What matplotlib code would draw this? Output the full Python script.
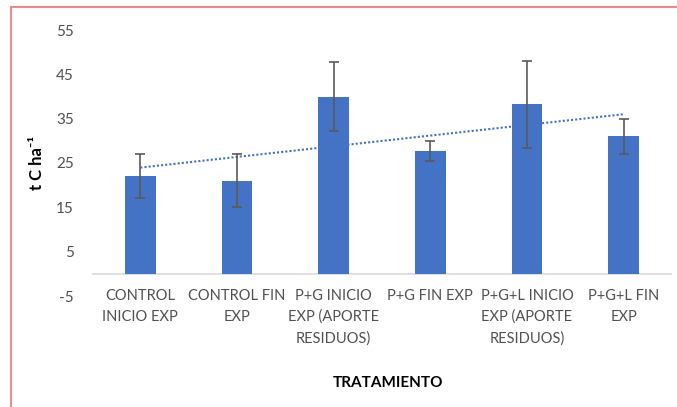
import matplotlib.pyplot as plt
import numpy as np
from matplotlib.lines import Line2D

plt.rcParams['font.family'] = ['Lato', 'DejaVu Sans']
plt.rcParams['axes.unicode_minus'] = False

tratamientos = ["CONTROL\nINICIO EXP", "CONTROL FIN\nEXP", "P+G INICIO\nEXP (APORTE\nRESIDUOS)",
                "P+G FIN EXP", "P+G+L INICIO\nEXP (APORTE\nRESIDUOS)", "P+G+L FIN\nEXP"]
carbono = [22.0, 21.0, 40.0, 27.7, 38.2, 31.0]
error = [5.0, 6.0, 7.8, 2.3, 9.8, 4.0]
marcas_y = [-5, 5, 15, 25, 35, 45, 55]

fig = plt.figure(figsize=(6.77, 4.07), dpi=100)
ax = fig.add_axes([92/677, 1 - 296/407, 580/677, 266/407])

x = np.arange(1, len(carbono) + 1)

# linea de tendencia lineal (queda por detras de las barras)
coef = np.polyfit(x, carbono, 1)
recta = np.poly1d(coef)
ax.plot(x, recta(x), color="#4472C4", linestyle=(0, (1, 1)), linewidth=1.5, zorder=1)

ax.bar(x, carbono, width=0.32, color="#4472C4", zorder=2)
ax.errorbar(x, carbono, yerr=error, fmt="none", ecolor="#5a5a5a", elinewidth=1.2,
            capsize=3.5, capthick=1.2, zorder=3)

ax.axhline(0, color="#D9D9D9", linewidth=1.2, zorder=0)

ax.set_xlim(0.5, 6.5)
ax.set_ylim(-5, 55)
ax.set_yticks(marcas_y)
ax.set_xticks(x)
ax.set_xticklabels(tratamientos, fontsize=10.5, color="#505050", linespacing=1.6)
ax.tick_params(axis="x", length=0, pad=-5)
ax.tick_params(axis="y", length=0, pad=13, labelsize=11, labelcolor="#505050")
for s in ax.spines.values():
    s.set_visible(False)

ax.set_ylabel("t C ha\u207b\u00b9", fontsize=12, fontweight="bold", labelpad=8)
fig.text(388/677, 1 - 383/407, "TRATAMIENTO", ha="center", va="center",
         fontsize=11, fontweight="bold")

# marco del grafico
fig.add_artist(Line2D([11/677, 11/677], [0, 1 - 7/407], color="#EE8A8A", linewidth=1.5))
fig.add_artist(Line2D([11/677, 1], [1 - 7/407, 1 - 7/407], color="#EE8A8A", linewidth=1.5))

plt.savefig("out.png", dpi=100)
